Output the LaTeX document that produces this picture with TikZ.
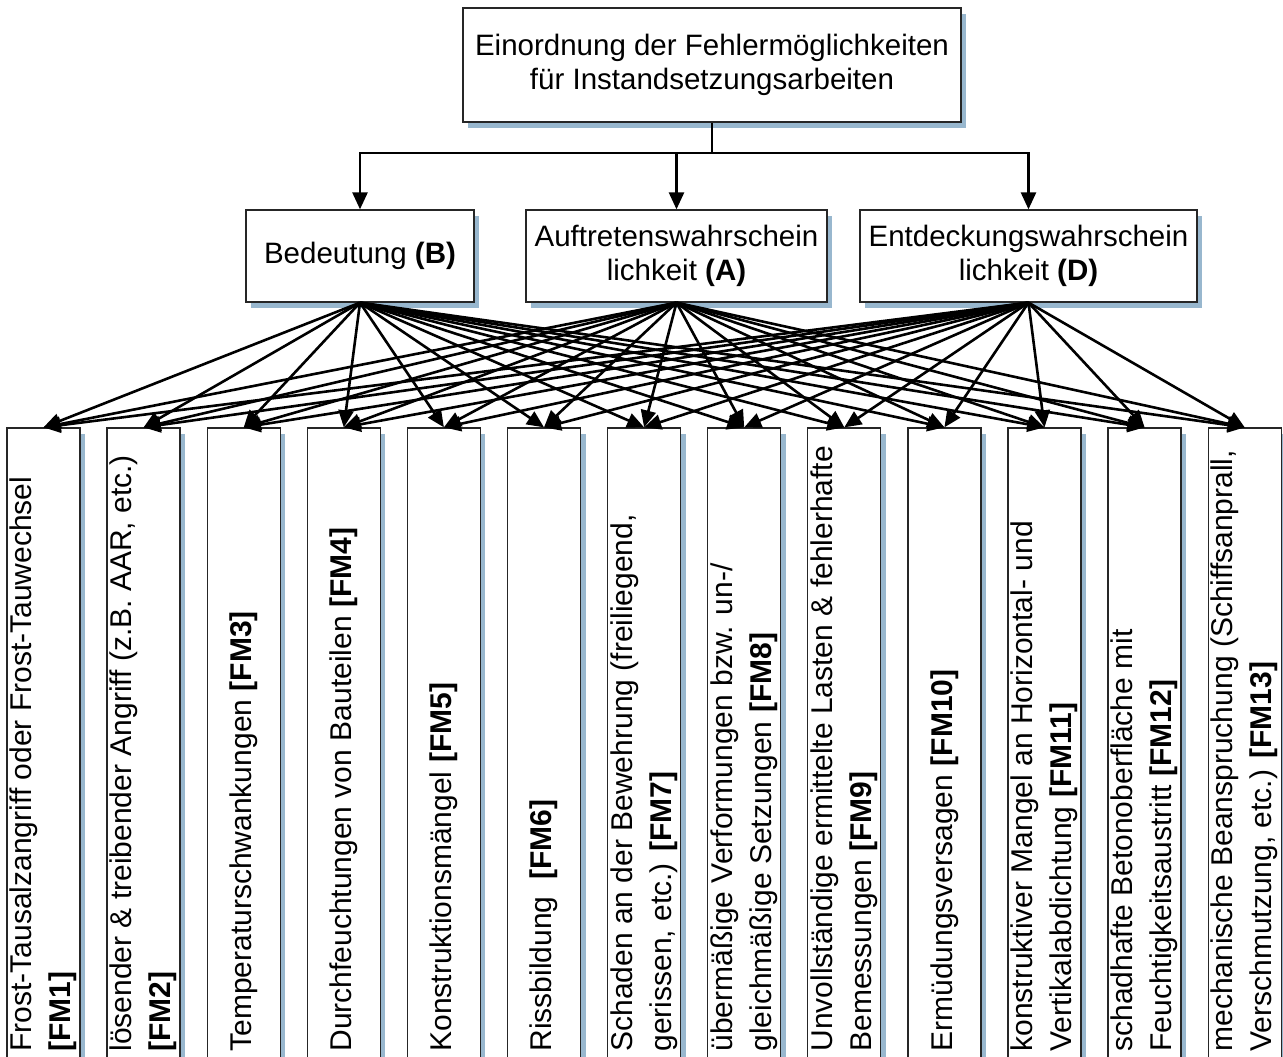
\documentclass[tikz,border=0pt]{standalone}
\usepackage{fontspec}
\setmainfont{Liberation Sans}
\usetikzlibrary{arrows.meta,shadows}
\definecolor{schatten}{RGB}{152,183,206}
\tikzset{
  kasten/.style={draw=black!85, line width=1.3pt, fill=white, inner sep=0pt, align=center,
    drop shadow={shadow xshift=5pt, shadow yshift=-6pt, fill=schatten, opacity=1},
    font=\fontsize{29.5}{34}\selectfont},
  fmkasten/.style={kasten, minimum width=73pt, minimum height=630pt},
  fmtext/.style={rotate=90, anchor=west, align=left, inner sep=0pt,
    font=\fontsize{30}{39}\selectfont},
  pfeil/.style={line width=2.6pt, -{Triangle[length=17pt,width=15pt]}},
}
\begin{document}
\begin{tikzpicture}[x=1pt,y=-1pt]
\useasboundingbox (0,0) rectangle (1283,1057);
% oberste Ebene
\node[kasten, minimum width=498pt, minimum height=114pt] (top) at (712,65) {Einordnung der Fehlermöglichkeiten\\für Instandsetzungsarbeiten};
% Bewertungskriterien
\node[kasten, minimum width=228pt, minimum height=92pt] (bed) at (360,256) {Bedeutung \textbf{(B)}};
\node[kasten, minimum width=301pt, minimum height=92pt] (auf) at (676.5,256) {Auftretenswahrschein\\lichkeit \textbf{(A)}};
\node[kasten, minimum width=337pt, minimum height=92pt] (ent) at (1028.5,256) {Entdeckungswahrschein\\lichkeit \textbf{(D)}};
\coordinate (gabel) at (712,153);
\draw[line width=2.8pt] (top.south) -- (gabel);
\draw[pfeil] (gabel) -| (bed.north);
\draw[pfeil] (gabel) -| (auf.north);
\draw[pfeil] (gabel) -| (ent.north);
% Fehlermoeglichkeiten FM1 bis FM13
\foreach \i in {1,...,13}
  \node[fmkasten] (fm\i) at ({43.5+(\i-1)*100.1},743) {};
\node[fmtext] (t1) at ([yshift=7pt]fm1.south) {Frost-Tausalzangriff oder Frost-Tauwechsel\\\textbf{[FM1]}};
\node[fmtext] (t2) at ([yshift=7pt]fm2.south) {lösender \& treibender Angriff (z.B. AAR, etc.)\\\textbf{[FM2]}};
\node[fmtext] (t3) at ([yshift=7pt]fm3.south) {Temperaturschwankungen \textbf{[FM3]}};
\node[fmtext] (t4) at ([yshift=7pt]fm4.south) {Durchfeuchtungen von Bauteilen \textbf{[FM4]}};
\node[fmtext] (t5) at ([yshift=7pt]fm5.south) {Konstruktionsmängel \textbf{[FM5]}};
\node[fmtext] (t6) at ([yshift=7pt]fm6.south) {Rissbildung\ \ \textbf{[FM6]}};
\node[fmtext] (t7) at ([yshift=7pt]fm7.south) {Schaden an der Bewehrung (freiliegend,\\gerissen, etc.) \textbf{[FM7]}};
\node[fmtext] (t8) at ([yshift=7pt]fm8.south) {übermäßige Verformungen bzw. un-/\\gleichmäßige Setzungen \textbf{[FM8]}};
\node[fmtext] (t9) at ([yshift=7pt]fm9.south) {Unvollständige ermittelte Lasten \& fehlerhafte\\Bemessungen \textbf{[FM9]}};
\node[fmtext] (t10) at ([yshift=7pt]fm10.south) {Ermüdungsversagen \textbf{[FM10]}};
\node[fmtext] (t11) at ([yshift=7pt]fm11.south) {konstruktiver Mangel an Horizontal- und\\Vertikalabdichtung \textbf{[FM11]}};
\node[fmtext] (t12) at ([yshift=7pt]fm12.south) {schadhafte Betonoberfläche mit\\Feuchtigkeitsaustritt \textbf{[FM12]}};
\node[fmtext] (t13) at ([yshift=7pt]fm13.south) {mechanische Beanspruchung (Schiffsanprall,\\Verschmutzung, etc.) \textbf{[FM13]}};
% jedes Kriterium auf jede Fehlermoeglichkeit
\foreach \k in {bed,auf,ent}
  \foreach \i in {1,...,13}
    \draw[pfeil] (\k.south) -- (fm\i.north);
\end{tikzpicture}
\end{document}
